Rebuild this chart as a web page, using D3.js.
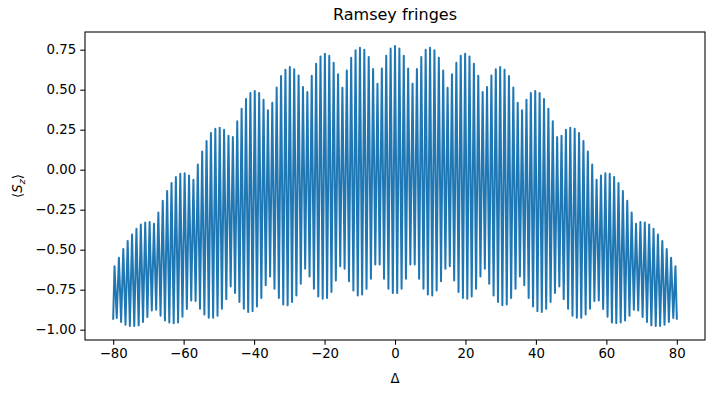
<!DOCTYPE html>
<html>
<head>
<meta charset="utf-8">
<style>
  body { margin: 0; background: #fff; }
  #fringes text { font-family: 'DejaVu Sans', sans-serif; fill: #000; }
</style>
</head>
<body>
<div id="fringes"></div>
<script src="https://d3js.org/d3.v7.min.js"></script>
<script>
  // detuning range and spacing between neighbouring fringe maxima
  var deltaStart = -80, deltaEnd = 80;
  var fringeSpacing = 1.244;
  var edgeSz = -0.932;

  // <S_z> at each fringe maximum, left to right (centre one at Δ = 0)
  var peakSz = [
    -0.604, -0.550, -0.496, -0.446, -0.405, -0.369, -0.342, -0.330, -0.327, -0.338,
    -0.267, -0.194, -0.134, -0.084, -0.046, -0.025, -0.023, -0.036, -0.063, 0.033,
    0.114, 0.179, 0.229, 0.256, 0.262, 0.250, 0.212, 0.204, 0.302, 0.381,
    0.441, 0.479, 0.491, 0.479, 0.437, 0.371, 0.418, 0.514, 0.585, 0.625,
    0.641, 0.627, 0.589, 0.516, 0.485, 0.587, 0.662, 0.708, 0.725, 0.712,
    0.668, 0.596, 0.512, 0.620, 0.700, 0.746, 0.762, 0.750, 0.704, 0.629,
    0.537, 0.633, 0.712, 0.758,
    0.773,
    0.758, 0.712, 0.633, 0.537,
    0.629, 0.704, 0.750, 0.762, 0.746, 0.700, 0.620, 0.512, 0.596, 0.668,
    0.712, 0.725, 0.708, 0.662, 0.587, 0.485, 0.516, 0.589, 0.627, 0.641,
    0.625, 0.585, 0.514, 0.418, 0.371, 0.437, 0.479, 0.491, 0.479, 0.441,
    0.381, 0.302, 0.204, 0.212, 0.250, 0.262, 0.256, 0.229, 0.179, 0.114,
    0.033, -0.063, -0.036, -0.023, -0.025, -0.046, -0.084, -0.134, -0.194, -0.267,
    -0.338, -0.327, -0.330, -0.342, -0.369, -0.405, -0.446, -0.496, -0.550, -0.604
  ];

  // <S_z> at each minimum between two maxima
  var troughSz = [
    -0.927, -0.952, -0.969, -0.977, -0.977, -0.973, -0.952, -0.921, -0.880, -0.875,
    -0.913, -0.942, -0.955, -0.959, -0.955, -0.919, -0.871, -0.817, -0.821, -0.869,
    -0.905, -0.925, -0.925, -0.913, -0.869, -0.809, -0.730, -0.771, -0.827, -0.869,
    -0.890, -0.884, -0.855, -0.802, -0.723, -0.667, -0.744, -0.802, -0.842, -0.848,
    -0.827, -0.786, -0.713, -0.619, -0.667, -0.744, -0.792, -0.807, -0.802, -0.765,
    -0.692, -0.604, -0.619, -0.698, -0.755, -0.786, -0.780, -0.744, -0.682, -0.592,
    -0.592, -0.682, -0.744, -0.771,
    -0.771, -0.744, -0.682, -0.592,
    -0.592, -0.682, -0.744, -0.780, -0.786, -0.755, -0.698, -0.619, -0.604, -0.692,
    -0.765, -0.802, -0.807, -0.792, -0.744, -0.667, -0.619, -0.713, -0.786, -0.827,
    -0.848, -0.842, -0.802, -0.744, -0.667, -0.723, -0.802, -0.855, -0.884, -0.890,
    -0.869, -0.827, -0.771, -0.730, -0.809, -0.869, -0.913, -0.925, -0.925, -0.905,
    -0.869, -0.821, -0.817, -0.871, -0.919, -0.955, -0.959, -0.955, -0.942, -0.913,
    -0.875, -0.880, -0.921, -0.952, -0.973, -0.977, -0.977, -0.969, -0.952, -0.927
  ];

  var xTicks = [-80, -60, -40, -20, 0, 20, 40, 60, 80];
  var yTicks = [-1.00, -0.75, -0.50, -0.25, 0.00, 0.25, 0.50, 0.75];

  var width = 715, height = 393;
  var margin = {left: 85, right: 10, top: 32, bottom: 53};

  var svg = d3.select("#fringes").append("svg")
    .attr("width", width).attr("height", height);

  var x = d3.scaleLinear().domain([-88, 88]).range([margin.left, width - margin.right]);
  var y = d3.scaleLinear().domain([-1.0645, 0.8605]).range([height - margin.bottom, margin.top]);

  // zig-zag through maxima and minima
  var mid = (peakSz.length - 1) / 2;
  var points = [{d: deltaStart, s: edgeSz}];
  peakSz.forEach(function(p, i) {
    var d = (i - mid) * fringeSpacing;
    points.push({d: d, s: p});
    if (i < troughSz.length) points.push({d: d + fringeSpacing / 2, s: troughSz[i]});
  });
  points.push({d: deltaEnd, s: edgeSz});

  var line = d3.line()
    .x(function(p) { return x(p.d); })
    .y(function(p) { return y(p.s); });

  svg.append("path")
    .datum(points)
    .attr("d", line)
    .attr("fill", "none")
    .attr("stroke", "#1f77b4")
    .attr("stroke-width", 2)
    .attr("stroke-linejoin", "round")
    .attr("stroke-linecap", "square");

  var fmtMinus = function(s) { return s.replace("-", "\u2212"); };

  var xAxis = svg.append("g")
    .attr("transform", "translate(0," + (height - margin.bottom) + ")")
    .call(d3.axisBottom(x).tickValues(xTicks).tickSize(4.7).tickPadding(4.2)
      .tickFormat(function(d) { return fmtMinus(d3.format("d")(d)); }));

  var yAxis = svg.append("g")
    .attr("transform", "translate(" + margin.left + ",0)")
    .call(d3.axisLeft(y).tickValues(yTicks).tickSize(4.7).tickPadding(4.2)
      .tickFormat(function(d) { return fmtMinus(d3.format(".2f")(d)); }));

  [xAxis, yAxis].forEach(function(g) {
    g.select(".domain").remove();
    g.selectAll("line").attr("stroke", "#000").attr("stroke-width", 1.07);
    g.selectAll("text").style("font-size", "13.3px").attr("fill", "#000");
  });

  // frame
  svg.append("rect")
    .attr("x", margin.left).attr("y", margin.top)
    .attr("width", width - margin.left - margin.right)
    .attr("height", height - margin.top - margin.bottom)
    .attr("fill", "none").attr("stroke", "#000").attr("stroke-width", 1.07);

  svg.append("text")
    .attr("x", x(0)).attr("y", 20)
    .attr("text-anchor", "middle")
    .style("font-size", "16px")
    .text("Ramsey fringes");

  svg.append("text")
    .attr("x", x(0)).attr("y", 383)
    .attr("text-anchor", "middle")
    .style("font-size", "13.3px")
    .text("Δ");

  var yl = svg.append("text")
    .attr("transform", "translate(22," + ((margin.top + height - margin.bottom) / 2) + ") rotate(-90)")
    .attr("text-anchor", "middle")
    .style("font-size", "13.3px");
  yl.append("tspan").text("\u27E8");
  yl.append("tspan").style("font-style", "italic").text("S");
  yl.append("tspan").style("font-style", "italic").style("font-size", "9.5px").attr("dy", 2.5).text("z");
  yl.append("tspan").attr("dy", -2.5).text("\u27E9");
</script>
</body>
</html>
